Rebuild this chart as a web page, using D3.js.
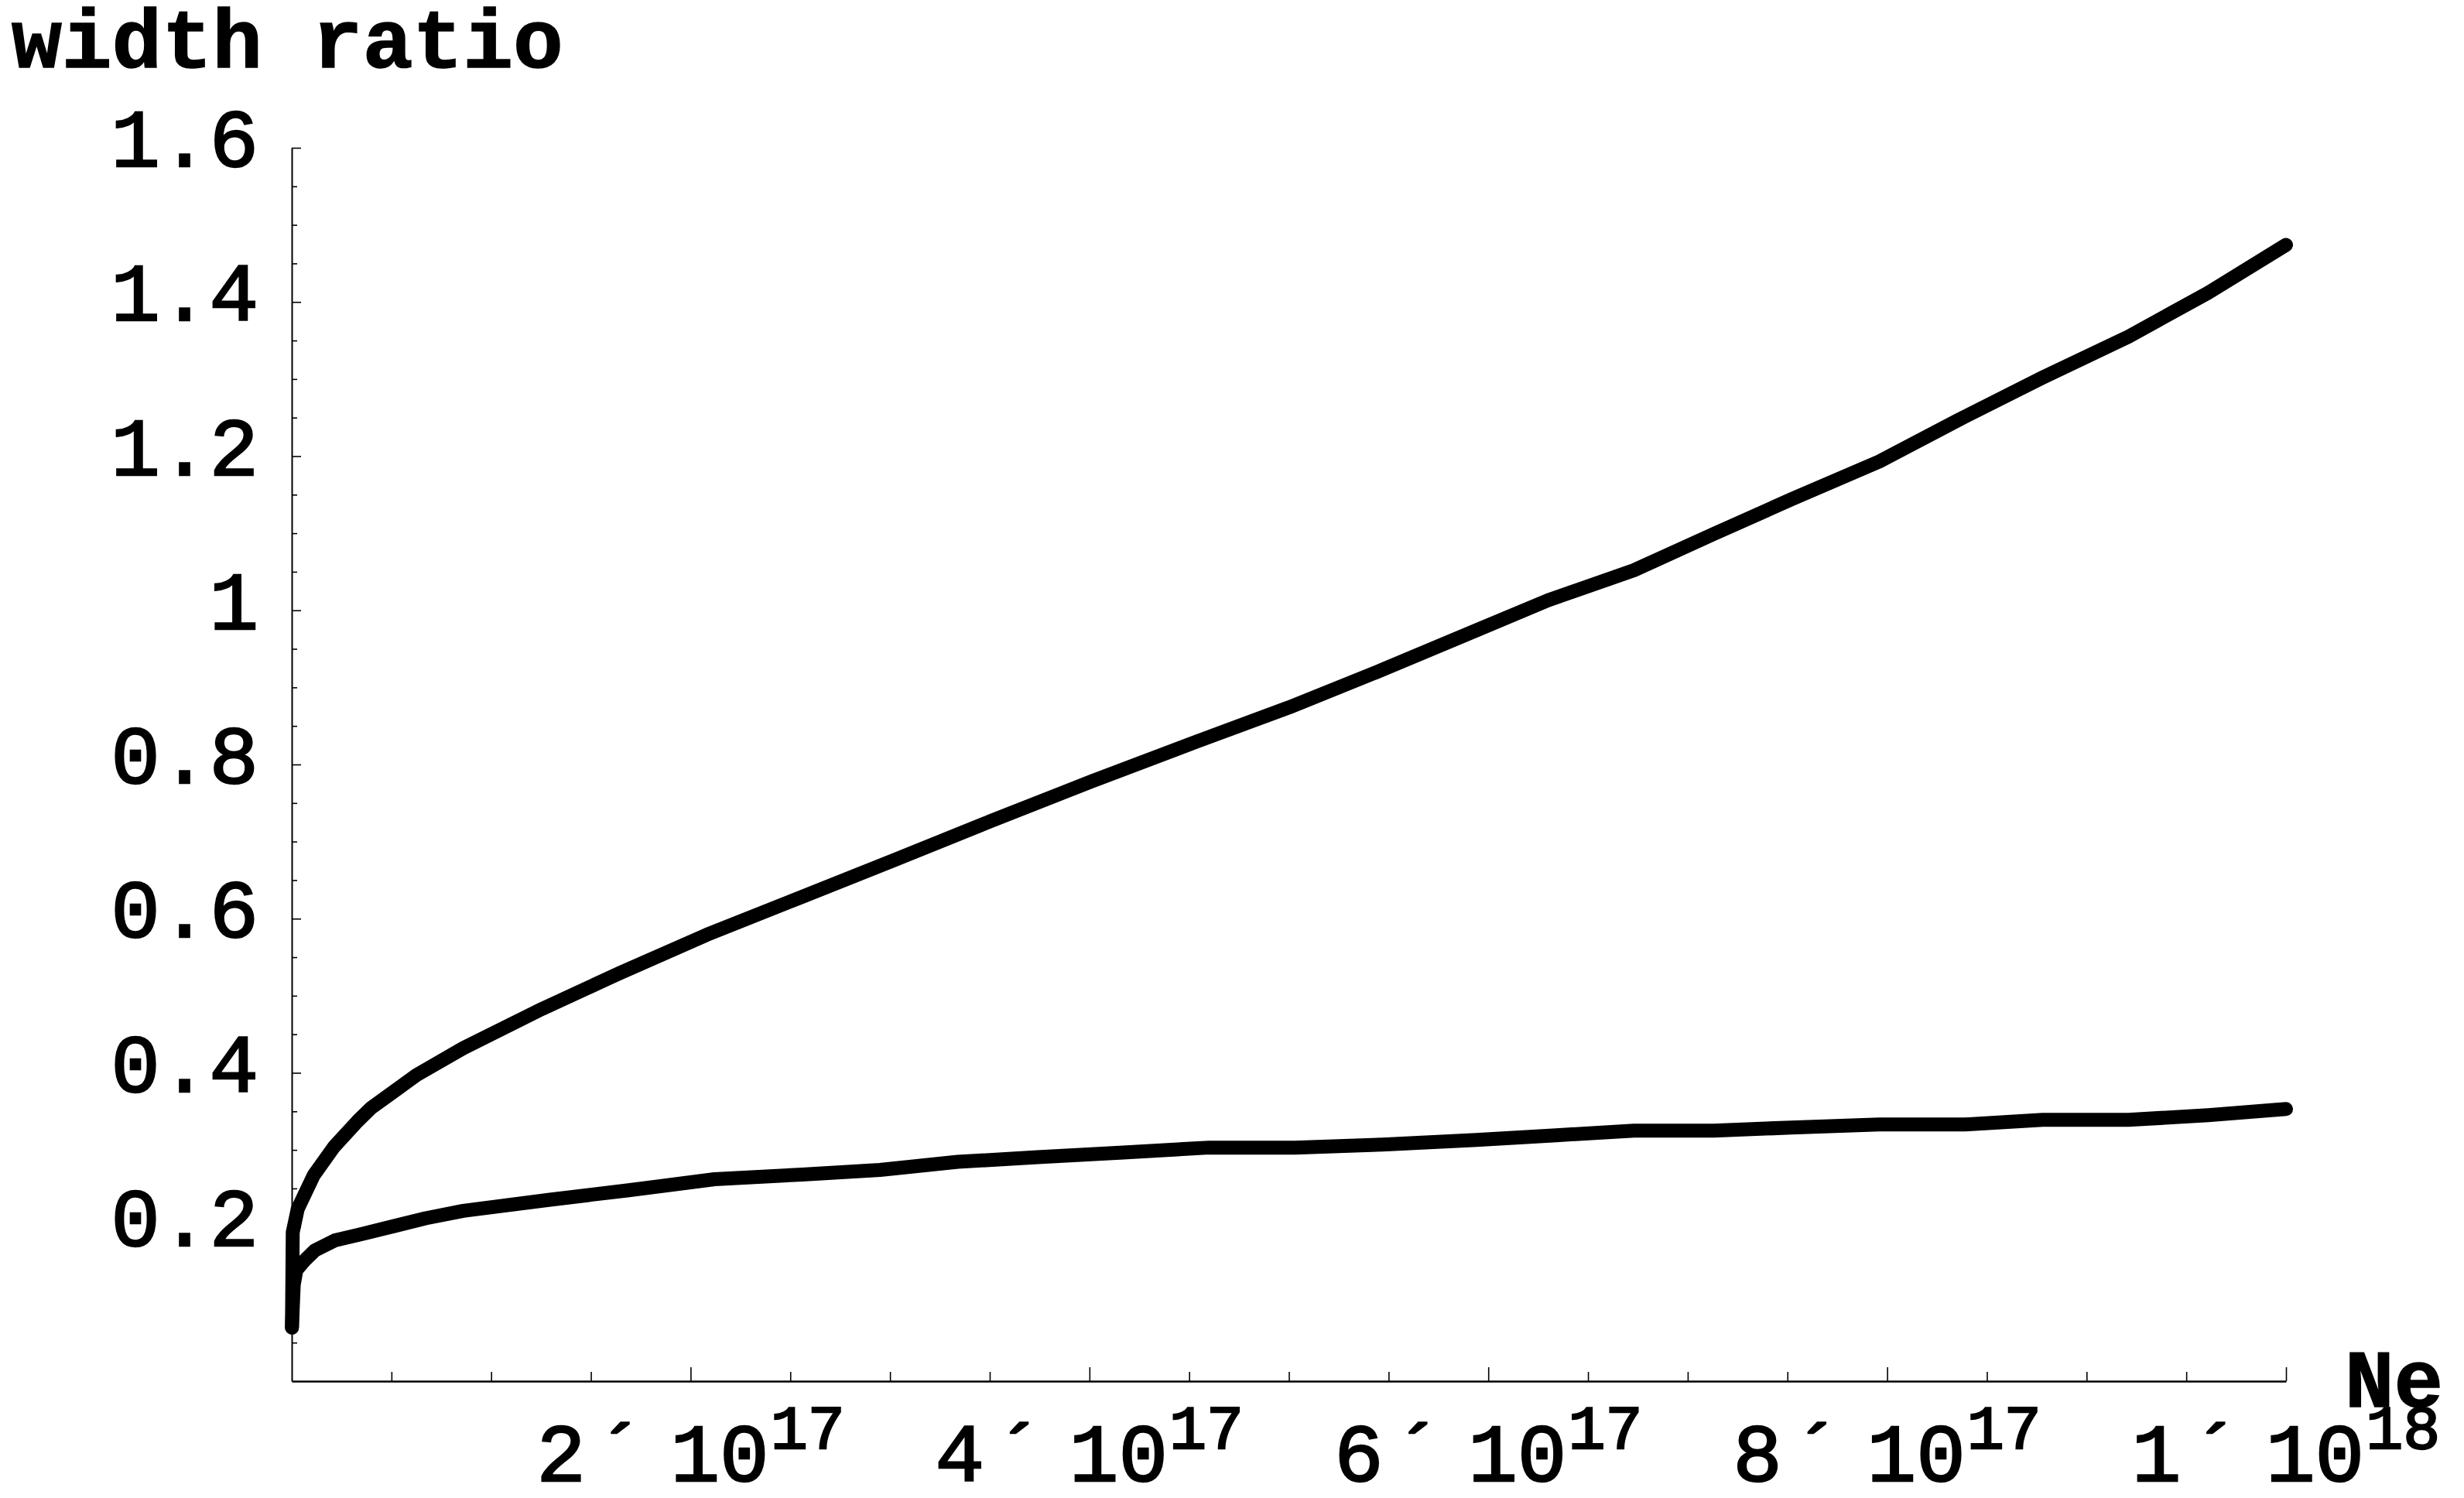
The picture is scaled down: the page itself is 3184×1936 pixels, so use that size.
<!DOCTYPE html>
<html>
<head>
<meta charset="utf-8">
<script src="https://cdn.jsdelivr.net/npm/d3@7/dist/d3.min.js"></script>
<style>
  html, body { margin: 0; padding: 0; background: #fff; }
  svg { display: block; }
  text { fill: #000; }
</style>
</head>
<body>
<script>
// ---- data ----
const neUpper = [1e14, 0.05e16, 0.3e16, 1.1e16, 2.12e16, 3.31e16, 3.96e16, 6.25e16, 8.6e16,
  12.56e16, 16.5e16, 20.8e16, 25.56e16, 30.3e16, 35.0e16, 40.1e16, 45.3e16, 50.0e16, 54.7e16,
  59.4e16, 63.0e16, 67.3e16, 71.3e16, 75.2e16, 79.6e16, 83.5e16, 87.8e16, 92.1e16, 96.1e16, 1e18];
const widthUpper = [0.0695, 0.193, 0.2234, 0.267, 0.304, 0.3375, 0.354, 0.397, 0.432,
  0.483, 0.530, 0.579, 0.628, 0.677, 0.726, 0.778, 0.829, 0.874, 0.923,
  0.974, 1.013, 1.052, 1.099, 1.144, 1.193, 1.246, 1.302, 1.355, 1.412, 1.474];

const neLower = [1e14, 0.1e16, 0.23e16, 0.62e16, 1.16e16, 2.17e16, 3.49e16, 6.71e16, 8.6e16,
  12.95e16, 16.9e16, 21.2e16, 25.6e16, 29.5e16, 33.4e16, 37.4e16, 41.7e16, 46.0e16, 50.3e16,
  54.7e16, 59.4e16, 63.4e16, 67.3e16, 71.3e16, 75.2e16, 79.6e16, 83.9e16, 87.8e16, 92.1e16,
  96.1e16, 1e18];
const widthLower = [0.0695, 0.125, 0.144, 0.156, 0.1696, 0.1827, 0.1907, 0.2113, 0.221,
  0.2354, 0.2477, 0.262, 0.268, 0.274, 0.2845, 0.2906, 0.2967, 0.303, 0.303,
  0.307, 0.313, 0.319, 0.325, 0.325, 0.329, 0.333, 0.333, 0.339, 0.339,
  0.345, 0.353];

const yMajorTicks = [0.2, 0.4, 0.6, 0.8, 1.0, 1.2, 1.4, 1.6];
const yTickLabels = ["0.2", "0.4", "0.6", "0.8", "1", "1.2", "1.4", "1.6"];
const xMajorTicks = [2e17, 4e17, 6e17, 8e17, 1e18];
const xTickMantissa = ["2", "4", "6", "8", "1"];
const xTickExponent = ["17", "17", "17", "17", "18"];
const yTitle = "width ratio";
const xTitle = "Ne";

// ---- layout ----
const W = 3184, H = 1936;
const svg = d3.select("body").append("svg").attr("width", W).attr("height", H);
svg.append("rect").attr("width", W).attr("height", H).attr("fill", "#fff");

const x = d3.scaleLinear().domain([0, 1e18]).range([377, 2954]);
const y = d3.scaleLinear().domain([0, 1.6]).range([1785, 191]);

const xMinor = d3.range(1, 21).map(i => i * 5e16).filter(v => !xMajorTicks.some(m => Math.abs(m - v) < 1));
const yMinor = d3.range(1, 33).map(i => i * 0.05).filter(v => !yMajorTicks.some(m => Math.abs(m - v) < 1e-9));

// x axis
const gx = svg.append("g").attr("transform", `translate(0,${y(0)})`);
gx.call(d3.axisBottom(x).tickValues(xMajorTicks).tickSize(-18).tickSizeOuter(0).tickFormat(""));
gx.select(".domain").attr("stroke-width", 2.5);
gx.selectAll(".tick line").attr("stroke-width", 1.6);
const gxm = svg.append("g").attr("transform", `translate(0,${y(0)})`);
gxm.call(d3.axisBottom(x).tickValues(xMinor).tickSize(-12).tickSizeOuter(0).tickFormat(""));
gxm.select(".domain").remove();
gxm.selectAll(".tick line").attr("stroke-width", 1.6);

// y axis
const gy = svg.append("g").attr("transform", `translate(${x(0)},0)`);
gy.call(d3.axisLeft(y).tickValues(yMajorTicks).tickSize(-12).tickSizeOuter(0).tickFormat(""));
gy.select(".domain").attr("stroke-width", 2);
gy.selectAll(".tick line").attr("stroke-width", 1.6);
const gym = svg.append("g").attr("transform", `translate(${x(0)},0)`);
gym.call(d3.axisLeft(y).tickValues(yMinor).tickSize(-7).tickSizeOuter(0).tickFormat(""));
gym.select(".domain").remove();
gym.selectAll(".tick line").attr("stroke-width", 1.6);

// y tick labels
svg.append("g").selectAll("text").data(yMajorTicks).join("text")
  .attr("x", 334)
  .attr("y", d => y(d) + 24)
  .attr("text-anchor", "end")
  .attr("font-family", "Liberation Mono, monospace")
  .attr("font-size", 106)
  .attr("stroke", "#000").attr("stroke-width", 2.5)
  .text((d, i) => yTickLabels[i]);

// x tick labels
const xl = svg.append("g").selectAll("text").data(xMajorTicks).join("text")
  .attr("x", d => x(d))
  .attr("y", 1914)
  .attr("text-anchor", "middle")
  .attr("font-family", "Liberation Mono, monospace")
  .attr("font-size", 106)
  .attr("stroke", "#000").attr("stroke-width", 2.5);
xl.each(function(d, i) {
  const t = d3.select(this);
  t.append("tspan").text(xTickMantissa[i]);
  t.append("tspan").attr("dx", 13).text("\u00B4");
  t.append("tspan").attr("dx", 33).text("10");
  t.append("tspan").attr("dx", 2).attr("dy", -42).attr("font-size", 80).text(xTickExponent[i]);
});

// titles
svg.append("text").attr("x", 15).attr("y", 87)
  .attr("font-family", "Liberation Mono, monospace").attr("font-weight", "bold")
  .attr("font-size", 108).attr("stroke", "#000").attr("stroke-width", 1.5).text(yTitle);
svg.append("text").attr("x", 3030).attr("y", 1818)
  .attr("font-family", "Liberation Mono, monospace").attr("font-weight", "bold")
  .attr("font-size", 106).attr("stroke", "#000").attr("stroke-width", 1.5).text(xTitle);

// curves
const line = d3.line().x(d => x(d[0])).y(d => y(d[1])).curve(d3.curveLinear);
const series = [
  neUpper.map((n, i) => [n, widthUpper[i]]),
  neLower.map((n, i) => [n, widthLower[i]])
];
svg.append("g").selectAll("path").data(series).join("path")
  .attr("d", line)
  .attr("fill", "none")
  .attr("stroke", "#000")
  .attr("stroke-width", 18)
  .attr("stroke-linecap", "round")
  .attr("stroke-linejoin", "round");
</script>
</body>
</html>
